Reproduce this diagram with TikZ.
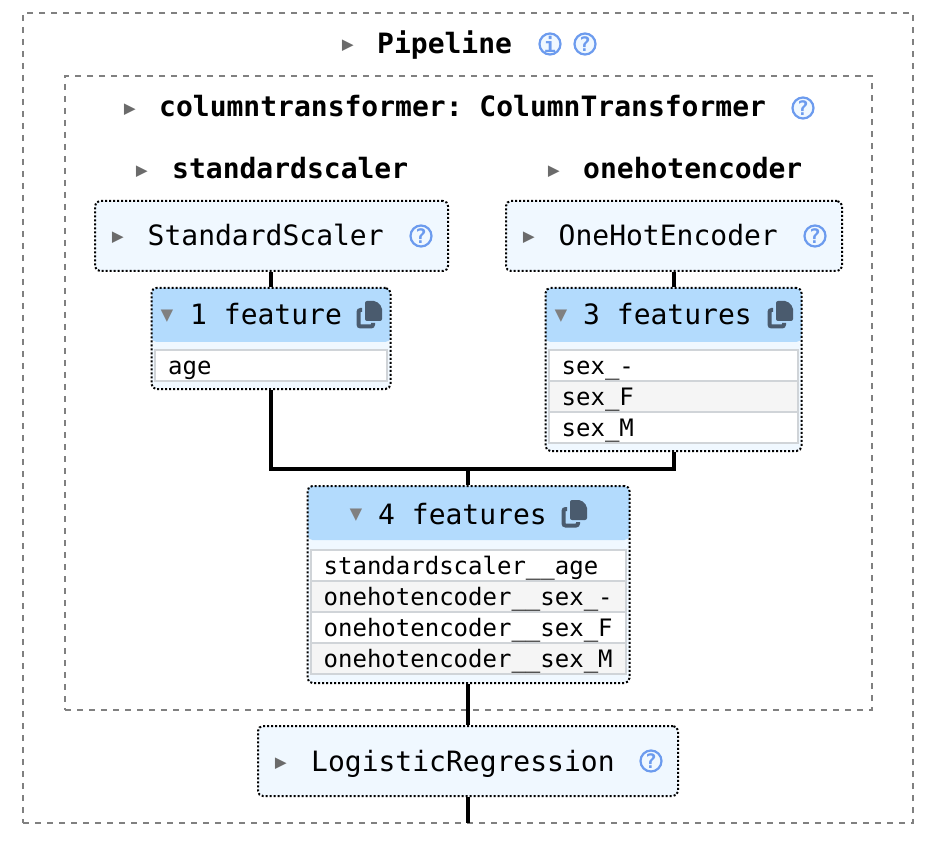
\documentclass[tikz,border=0pt]{standalone}
\usepackage{fontspec}
\setmonofont{DejaVu Sans Mono}
\usepackage{tikz}
\usetikzlibrary{positioning}
\definecolor{framegray}{HTML}{808080}
\definecolor{boxblue}{HTML}{F0F8FF}
\definecolor{headblue}{HTML}{B3DBFD}
\definecolor{iconblue}{HTML}{6C9BEE}
\definecolor{rowline}{HTML}{D0D4D8}
\definecolor{rowgray}{HTML}{F5F5F5}
\definecolor{copyslate}{HTML}{4A5B6E}
\newcommand{\bigfont}{\ttfamily\fontsize{28}{32}\selectfont}
\newcommand{\smallfont}{\ttfamily\fontsize{24}{28}\selectfont}

\begin{document}
\begin{tikzpicture}[x=1pt, y=-1pt]
    \tikzset{
        frame/.style={draw=framegray, line width=2pt, dash pattern=on 6pt off 6pt, inner sep=0pt},
        estbox/.style={draw, fill=boxblue, line width=2pt, dash pattern=on 2pt off 2pt, rounded corners=5pt, inner sep=0pt, minimum height=70pt},
        featbox/.style={draw, fill=boxblue, line width=2pt, dash pattern=on 2pt off 2pt, rounded corners=5pt, inner sep=0pt,
            path picture={\fill[headblue] (path picture bounding box.north west) rectangle ([yshift=-54pt]path picture bounding box.north east);}},
        row/.style={draw=rowline, line width=2pt, anchor=north west, inner sep=0pt},
        label/.style={anchor=base west, inner sep=0pt, font=\bigfont},
        title/.style={anchor=base west, inner sep=0pt, font=\bigfont\bfseries},
        rowtext/.style={anchor=base west, inner sep=0pt, font=\smallfont},
        arrowr/.style={anchor=center, inner sep=0pt, text=black!58, font=\ttfamily\fontsize{30}{30}\selectfont},
        arrowd/.style={anchor=center, inner sep=0pt, text=black!50, font=\ttfamily\fontsize{32}{32}\selectfont},
        help/.style={circle, draw=iconblue, fill=boxblue, line width=2.2pt, minimum size=21pt, inner sep=0pt, text=iconblue,
            font=\ttfamily\bfseries\fontsize{20}{20}\selectfont},
        link/.style={line width=3.6pt},
        copyicon/.pic={
            \fill[copyslate, rounded corners=2pt] (9,0) -- (20,0) -- (26,6) -- (26,20) -- (9,20) -- cycle;
            \draw[copyslate, line width=4pt, rounded corners=2pt] (6,9) -- (2.5,9) -- (2.5,25.5) -- (17,25.5) -- (17,22);
        }
    }
    \useasboundingbox (0,0) rectangle (948,850);

    % frames
    \node[frame, minimum width=890pt, minimum height=810pt] (pipeframe) at (468,418) {};
    \node[frame, minimum width=807pt, minimum height=634pt] (ctframe) at (468.5,393) {};

    % titles
    \node[arrowr] (pipearrow) at (348,47) {▸};
    \node[title] (pipetitle) at (377,54) {Pipeline};
    \node[help] (pipeinfo) at (550,44) {i};
    \node[help] (pipehelp) at (585,44) {?};
    \node[arrowr] (ctarrow) at (130,111) {▸};
    \node[title] (cttitle) at (159,117) {columntransformer: ColumnTransformer};
    \node[help] (cthelp) at (803,108) {?};
    \node[arrowr] (ssarrow) at (142,173) {▸};
    \node[title] (sstitle) at (172,179) {standardscaler};
    \node[arrowr] (oharrow) at (554,173) {▸};
    \node[title] (ohtitle) at (583,179) {onehotencoder};

    % estimators
    \node[estbox, minimum width=353pt] (scaler) at (271.5,236) {};
    \node[arrowr] (scalerarrow) at (118,239) {▸};
    \node[label] (scalertext) at (147.5,246) {StandardScaler};
    \node[help] (scalerhelp) at (421,236) {?};
    \node[estbox, minimum width=336pt] (encoder) at (674,236) {};
    \node[arrowr] (encoderarrow) at (529,239) {▸};
    \node[label] (encodertext) at (558.5,246) {OneHotEncoder};
    \node[help] (encoderhelp) at (815,236) {?};
    \node[estbox, minimum width=420pt] (logreg) at (468,761) {};
    \node[arrowr] (logregarrow) at (281,765) {▸};
    \node[label] (logregtext) at (311,771) {LogisticRegression};
    \node[help] (logreghelp) at (651,761) {?};

    % feature boxes
    \node[featbox, minimum width=239pt, minimum height=101pt] (feat1) at (271,338.5) {};
    \node[arrowd] (feat1arrow) at (167,317) {▾};
    \node[label] (feat1text) at (190,325) {1 feature};
    \pic at (356,301) {copyicon};
    \node[featbox, minimum width=256pt, minimum height=163pt] (feat3) at (673.5,369.5) {};
    \node[arrowd] (feat3arrow) at (561,317) {▾};
    \node[label] (feat3text) at (583,325) {3 features};
    \pic at (767,301) {copyicon};
    \node[featbox, minimum width=322pt, minimum height=197pt] (feat4) at (468.5,584.5) {};
    \node[arrowd] (feat4arrow) at (356,516) {▾};
    \node[label] (feat4text) at (378,524) {4 features};
    \pic at (561,500) {copyicon};

    % rows
    \node[row, fill=white, minimum width=232pt, minimum height=31pt] (agerow) at (154,349) {};
    \node[rowtext] (agetext) at (168,374) {age};
    \foreach \i/\ypos/\rowfill/\rowname in {1/349/white/sex\_-, 2/380/rowgray/sex\_F, 3/411/white/sex\_M} {
        \node[row, fill=\rowfill, minimum width=249pt, minimum height=31pt] (sexrow\i) at (548,\ypos) {};
        \node[rowtext] (sextext\i) at (561.5,\ypos+25) {\rowname};
    }
    \foreach \i/\ypos/\rowfill/\rowname in {1/549/white/standardscaler\_\_age, 2/580/rowgray/onehotencoder\_\_sex\_-,
            3/611/white/onehotencoder\_\_sex\_F, 4/642/rowgray/onehotencoder\_\_sex\_M} {
        \node[row, fill=\rowfill, minimum width=315pt, minimum height=31pt] (outrow\i) at (310,\ypos) {};
        \node[rowtext] (outtext\i) at (323.5,\ypos+25) {\rowname};
    }

    % connectors
    \coordinate (joint) at (468,469);
    \coordinate (pipeend) at (468,823);
    \draw[link] (scaler.south -| feat1.north) -- (feat1.north);
    \draw[link] (encoder.south) -- (encoder.south |- feat3.north);
    \draw[link] (feat1.south) |- (joint) -| (encoder.south |- feat3.south);
    \draw[link] (joint) -- (joint |- feat4.north);
    \draw[link] (joint |- feat4.south) -- (logreg.north);
    \draw[link] (logreg.south) -- (pipeend);
\end{tikzpicture}
\end{document}
